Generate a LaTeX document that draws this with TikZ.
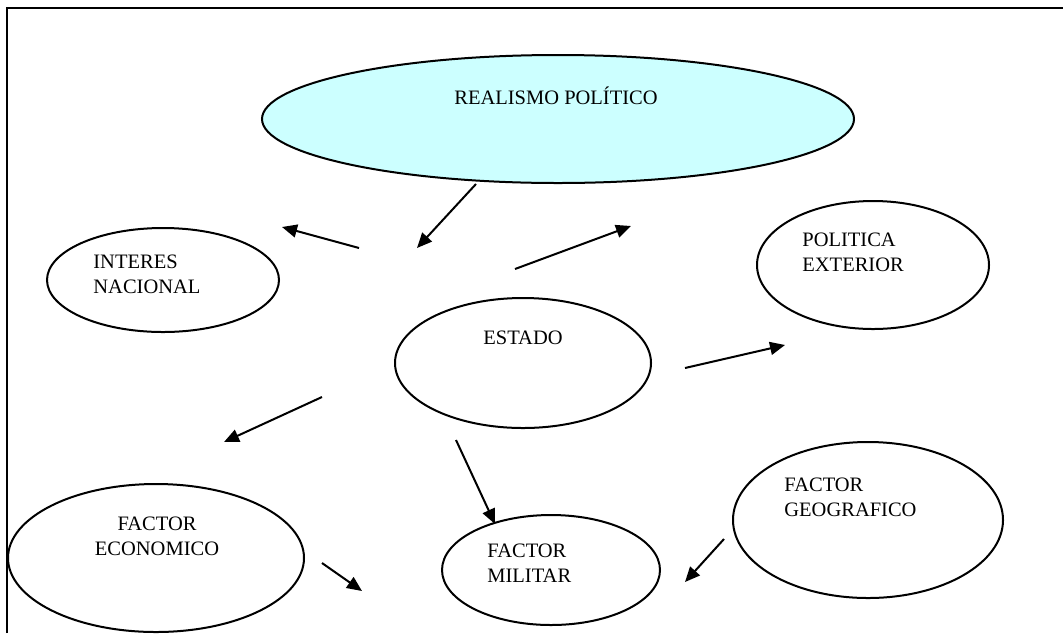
\documentclass[tikz,border=0pt]{standalone}
\usepackage{fontspec}
\setmainfont{Liberation Serif}
\usetikzlibrary{arrows.meta, shapes.geometric}
\definecolor{skyfill}{RGB}{204,255,255}

\begin{document}
\begin{tikzpicture}[x=0.5pt, y=-0.5pt,
    bubble/.style={draw, ellipse, line width=1pt, inner sep=0pt},
    txt/.style={inner sep=0pt, font=\fontsize{10.25}{12.5}\selectfont, align=left},
    link/.style={-{Triangle[length=7.5pt, width=6.5pt]}, line width=1pt}]
    \useasboundingbox (0,0) rectangle (1063,633);
    % frame
    \draw [line width=1pt] (7,633) -- (7,8) -- (1063,8);
    % ellipses
    \node [bubble, fill=skyfill, minimum width=296pt, minimum height=64pt] (realismo) at (558,119) {};
    \node [bubble, minimum width=116pt, minimum height=52pt] (interes) at (163,280) {};
    \node [bubble, minimum width=116pt, minimum height=64pt] (politica) at (873,265) {};
    \node [bubble, minimum width=128pt, minimum height=65pt] (estado) at (523,363) {};
    \node [bubble, minimum width=148pt, minimum height=74pt] (economico) at (156,558) {};
    \node [bubble, minimum width=109pt, minimum height=55pt] (militar) at (551,570) {};
    \node [bubble, minimum width=135pt, minimum height=78pt] (geografico) at (868,520) {};
    % texts
    \node [txt, anchor=base] (realismo-txt) at (556,104) {REALISMO POLÍTICO};
    \node [txt, anchor=west] (interes-txt) at (93,274) {INTERES\\NACIONAL};
    \node [txt, anchor=west] (politica-txt) at (802,252.5) {POLITICA\\EXTERIOR};
    \node [txt, anchor=base] (estado-txt) at (523,344) {ESTADO};
    \node [txt, align=center] (economico-txt) at (157,536) {FACTOR\\ECONOMICO};
    \node [txt, anchor=west] (militar-txt) at (487,563) {FACTOR\\MILITAR};
    \node [txt, anchor=west] (geografico-txt) at (784,497.5) {FACTOR\\GEOGRAFICO};
    % arrow ends
    \coordinate (realismo-a) at (476,184);
    \coordinate (realismo-b) at (417,248);
    \coordinate (interes-a) at (359,248);
    \coordinate (interes-b) at (282,227);
    \coordinate (up-a) at (515,269);
    \coordinate (up-b) at (631,226);
    \coordinate (politica-a) at (685,368);
    \coordinate (politica-b) at (785,345);
    \coordinate (economico-a) at (322,397);
    \coordinate (economico-b) at (224,442);
    \coordinate (militar-a) at (456,440);
    \coordinate (militar-b) at (495,524);
    \coordinate (econ-mil-a) at (322,563);
    \coordinate (econ-mil-b) at (362,591);
    \coordinate (geo-mil-a) at (724,539);
    \coordinate (geo-mil-b) at (685,582);
    % arrows
    \draw [link] (realismo-a) -- (realismo-b);
    \draw [link] (interes-a) -- (interes-b);
    \draw [link] (up-a) -- (up-b);
    \draw [link] (politica-a) -- (politica-b);
    \draw [link] (economico-a) -- (economico-b);
    \draw [link] (militar-a) -- (militar-b);
    \draw [link] (econ-mil-a) -- (econ-mil-b);
    \draw [link] (geo-mil-a) -- (geo-mil-b);
\end{tikzpicture}
\end{document}
